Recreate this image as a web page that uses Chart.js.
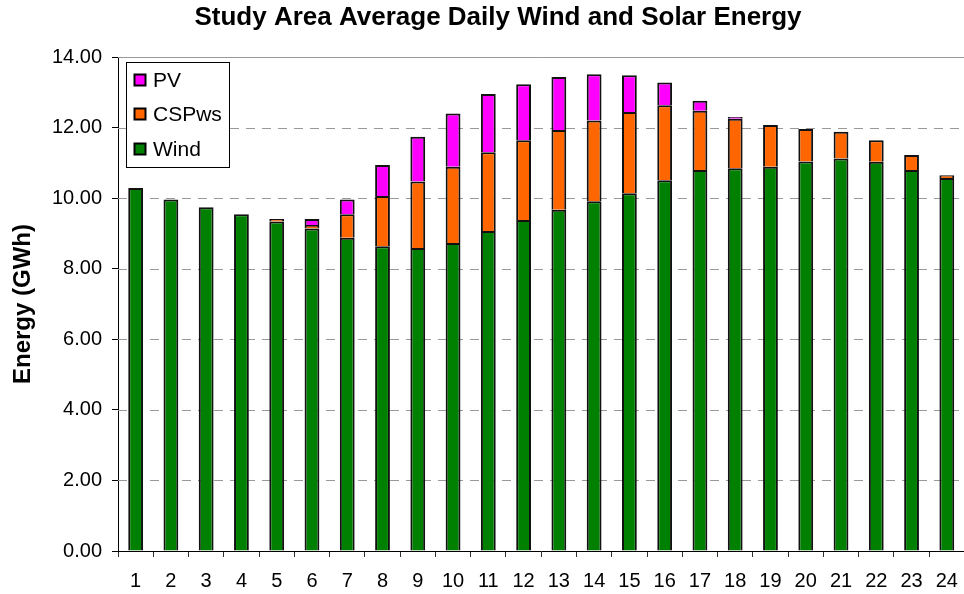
<!DOCTYPE html>
<html><head><meta charset="utf-8">
<script src="https://cdn.jsdelivr.net/npm/chart.js@4"></script>
<style>html,body{margin:0;padding:0;overflow:hidden;background:#fff;width:964px;height:594px}#wrap{width:970px;height:594px;position:relative}</style>
</head><body><div id="wrap"><canvas id="c" width="970" height="594"></canvas></div>
<script>
const hours = ['1','2','3','4','5','6','7','8','9','10','11','12','13','14','15','16','17','18','19','20','21','22','23','24'];
const wind = [10.29, 9.96, 9.74, 9.54, 9.34, 9.14, 8.88, 8.64, 8.59, 8.73, 9.07, 9.38, 9.67, 9.91, 10.14, 10.51, 10.80, 10.85, 10.89, 11.04, 11.12, 11.03, 10.80, 10.57];
const cspws = [0, 0, 0, 0, 0.07, 0.10, 0.66, 1.42, 1.88, 2.16, 2.23, 2.26, 2.26, 2.29, 2.30, 2.12, 1.68, 1.40, 1.18, 0.92, 0.76, 0.61, 0.42, 0.08];
const pv = [0, 0, 0, 0, 0, 0.17, 0.42, 0.88, 1.27, 1.51, 1.65, 1.59, 1.50, 1.31, 1.04, 0.65, 0.28, 0.05, 0, 0, 0, 0, 0, 0];
const yTicks = [0, 2, 4, 6, 8, 10, 12, 14];
const titleText = 'Study Area Average Daily Wind and Solar Energy';
const FONT = '"Liberation Sans", Arial, sans-serif';

const overlay = {
  id: 'overlay',
  afterDraw(chart) {
    const ctx = chart.ctx;
    ctx.save();
    ctx.fillStyle = '#000';
    ctx.font = 'bold 26px ' + FONT;
    ctx.textAlign = 'center';
    ctx.textBaseline = 'middle';
    ctx.fillText(titleText, 498, 18);
    // legend
    ctx.fillStyle = '#fff';
    ctx.strokeStyle = '#000';
    ctx.lineWidth = 1;
    ctx.fillRect(126.5, 62.5, 103, 105);
    ctx.strokeRect(126.5, 62.5, 103, 105);
    const items = [[2, 'PV', 81], [1, 'CSPws', 115], [0, 'Wind', 150]];
    ctx.font = '21px ' + FONT;
    ctx.textAlign = 'left';
    items.forEach(([i, label, y]) => {
      const ds = chart.data.datasets[i];
      ctx.fillStyle = ds.backgroundColor;
      ctx.fillRect(134.5, y - 6.5, 11, 11);
      ctx.lineWidth = 2;
      ctx.strokeRect(134.5, y - 6.5, 11, 11);
      ctx.fillStyle = '#000';
      ctx.fillText(label, 153, y);
    });
    ctx.restore();
  }
};

new Chart(document.getElementById('c'), {
  type: 'bar',
  data: {
    labels: hours,
    datasets: [
      { label: 'Wind', data: wind, backgroundColor: '#008000', borderColor: '#111', borderWidth: 2 },
      { label: 'CSPws', data: cspws, backgroundColor: '#FF6600', borderColor: '#111', borderWidth: 2 },
      { label: 'PV', data: pv, backgroundColor: '#FF00FF', borderColor: '#111', borderWidth: 2 }
    ]
  },
  options: {
    responsive: false,
    animation: false,
    layout: { padding: { top: 57, left: 0, right: 3, bottom: 0 } },
    datasets: { bar: { barPercentage: 0.42, categoryPercentage: 1 } },
    plugins: { legend: { display: false }, title: { display: false }, tooltip: { enabled: false } },
    scales: {
      x: {
        stacked: true,
        offset: true,
        grid: { offset: true, drawOnChartArea: false, color: '#000', tickLength: 6, tickColor: '#333' },
        border: { color: '#000', width: 1 },
        ticks: { color: '#000', font: { family: FONT, size: 20 }, padding: 12, maxRotation: 0, autoSkip: false },
        afterFit(s) { s.height = 43; }
      },
      y: {
        stacked: true,
        min: 0, max: 14,
        afterBuildTicks(s) { s.ticks = yTicks.map(v => ({ value: v })); },
        grid: {
          drawOnChartArea: false,
          lineWidth: 1,
          tickLength: 6,
          tickColor: '#000',
          drawTicks: true
        },
        border: { color: '#000', width: 1 },
        ticks: { color: '#000', font: { family: FONT, size: 20 }, padding: 10, callback: v => Number(v).toFixed(2) },
        title: { display: true, text: 'Energy (GWh)', color: '#000', font: { family: FONT, size: 24, weight: 'bold' }, padding: { top: 9, bottom: 2 } },
        afterFit(s) { s.width = 118; }
      }
    }
  },
  plugins: [{
    id: 'dash',
    beforeDatasetsDraw(chart) {
      const { ctx, chartArea: a, scales: { y } } = chart;
      ctx.save();
      ctx.strokeStyle = '#999';
      ctx.lineWidth = 1;
      yTicks.forEach(v => {
        if (v === 0) return;
        const py = Math.round(y.getPixelForValue(v)) + 0.5;
        ctx.setLineDash(v === 14 ? [] : [9, 7]);
        ctx.beginPath(); ctx.moveTo(a.left, py); ctx.lineTo(a.right, py); ctx.stroke();
      });
      ctx.restore();
    }
  }, overlay]
});
</script></body></html>
